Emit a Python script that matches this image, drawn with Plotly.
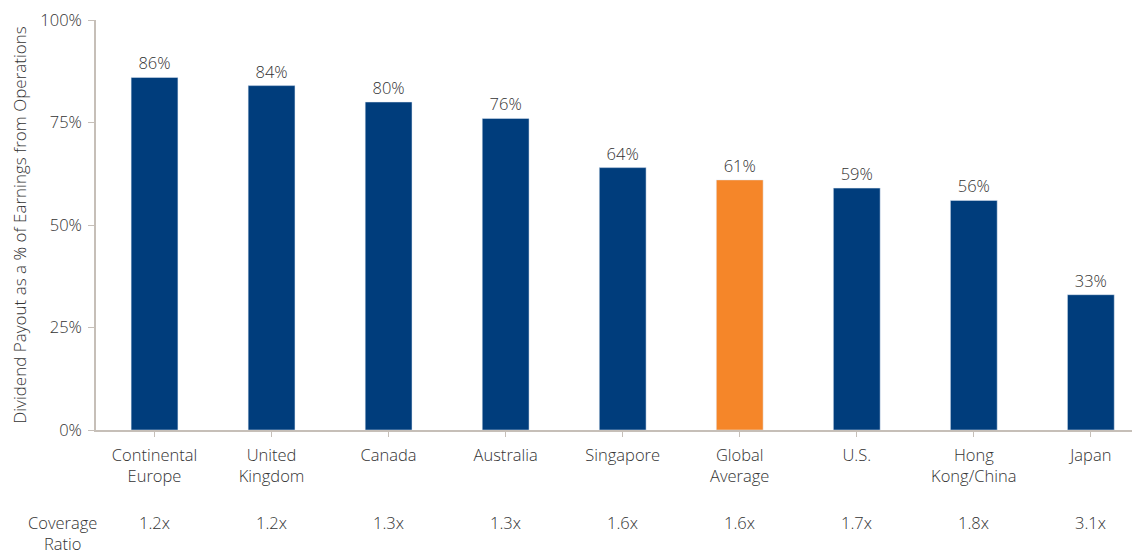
import plotly.graph_objects as go

categories = ["Continental<br>Europe", "United<br>Kingdom", "Canada", "Australia", "Singapore",
              "Global<br>Average", "U.S.", "Hong<br>Kong/China", "Japan"]
payout = [86, 84, 80, 76, 64, 61, 59, 56, 33]
coverage = ["1.2x", "1.2x", "1.3x", "1.3x", "1.6x", "1.6x", "1.7x", "1.8x", "3.1x"]
highlight = "Global<br>Average"

NAVY = "#003D7C"
ORANGE = "#F58629"
TXT = "#333333"
LINE = "#C6BFB8"
FONT = "Open Sans"
FS = 16.5

colors = [ORANGE if c == highlight else NAVY for c in categories]

fig = go.Figure()
fig.add_trace(go.Bar(
    x=list(range(len(categories))), y=payout, marker_color=colors, width=0.40,
    text=[f"{v}%" for v in payout], textposition="outside",
    textfont=dict(family=FONT, size=FS, color=TXT, weight=300), cliponaxis=False,
    hoverinfo="skip",
))

for i, c in enumerate(coverage):
    fig.add_annotation(x=i, xref="x", y=-0.2244, yref="paper", text=c, showarrow=False,
                       font=dict(family=FONT, size=FS, color=TXT, weight=300), yanchor="middle")
fig.add_annotation(x=-0.032, xref="paper", y=-0.25, yref="paper", text="Coverage<br>Ratio",
                   showarrow=False, align="center", xanchor="center", yanchor="middle",
                   font=dict(family=FONT, size=FS, color=TXT, weight=300))

# page body has an 8px margin: compensate so the plot lands where the reference has it
fig.update_layout(
    width=1132, height=546,
    margin=dict(l=88, r=0, t=12, b=124),
    plot_bgcolor="white", paper_bgcolor="white",
    showlegend=False,
    font=dict(family=FONT, size=FS, color=TXT, weight=300),
    xaxis=dict(
        tickmode="array", tickvals=list(range(len(categories))), ticktext=categories,
        range=[-0.5, 8.42], showline=True, linecolor=LINE, linewidth=1.5,
        ticks="outside", ticklen=5, tickcolor=LINE, tickson="boundaries",
        ticklabelstandoff=4, ticklabeloverflow="allow",
        showgrid=False, zeroline=False, tickfont=dict(family=FONT, size=FS, color=TXT, weight=300),
        fixedrange=True,
    ),
    yaxis=dict(
        range=[0, 100], tickvals=[0, 25, 50, 75, 100], ticktext=["0%", "25%", "50%", "75%", "100%"],
        showline=True, linecolor=LINE, linewidth=1.5, ticks="outside", ticklen=6,
        tickcolor=LINE, showgrid=False, zeroline=False, ticklabelstandoff=3,
        ticklabeloverflow="allow",
        tickfont=dict(family=FONT, size=FS, color=TXT, weight=300),
        title=dict(text="Dividend Payout as a % of Earnings from Operations",
                   font=dict(family=FONT, size=17, color=TXT, weight=300), standoff=20),
    ),
)

fig.write_html("out.html")
